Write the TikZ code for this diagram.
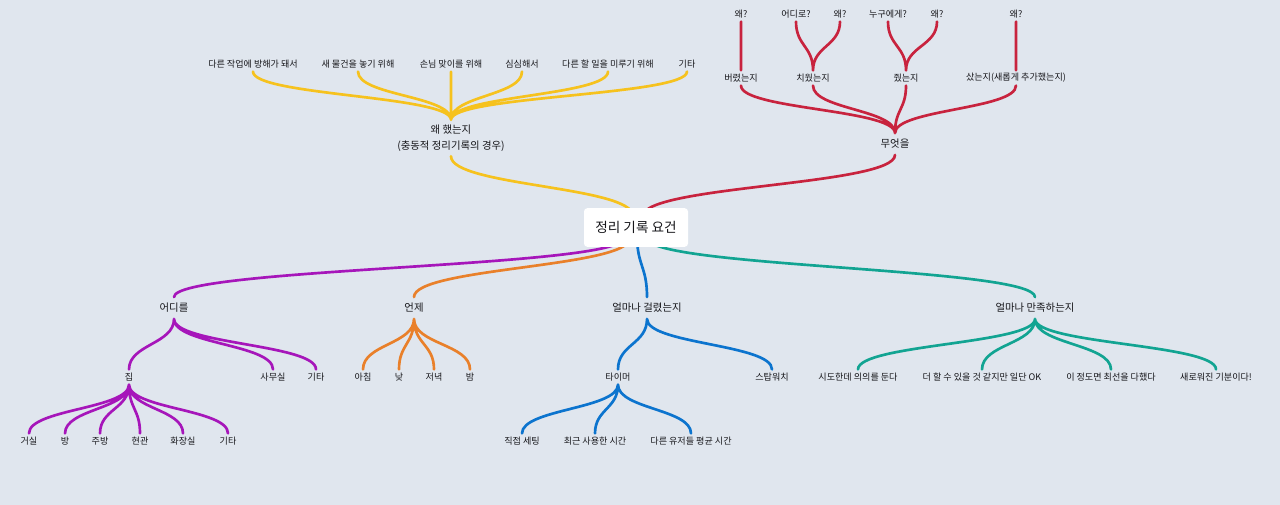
\documentclass[tikz,border=0pt]{standalone}
\usepackage{fontspec}
\setmainfont{Noto Sans CJK KR}
\usepackage{tikz}
\usetikzlibrary{calc, backgrounds}
\definecolor{bgpaper}{RGB}{224,230,238}
\definecolor{ink}{RGB}{22,22,26}
\definecolor{yellowline}{RGB}{246,194,30}
\definecolor{redline}{RGB}{200,35,62}
\definecolor{purpleline}{RGB}{166,22,186}
\definecolor{orangeline}{RGB}{233,128,42}
\definecolor{blueline}{RGB}{12,116,206}
\definecolor{tealline}{RGB}{18,164,146}
\tikzset{
  branch/.style={line width=2pt, line cap=round,
    to path={let \p1=(\tikztostart), \p2=(\tikztotarget) in
      .. controls (\x1,{0.5*\y1+0.5*\y2}) and (\x2,{0.5*\y1+0.5*\y2}) .. (\tikztotarget)}},
  leaf/.style={font=\fontsize{6.8}{8}\selectfont, text=ink, inner sep=0pt, minimum height=11pt},
  topic/.style={font=\fontsize{7.8}{12}\selectfont, text=ink, inner sep=0pt, minimum height=16pt},
  rootbox/.style={fill=white, rounded corners=2.5pt, font=\fontsize{10.2}{12}\selectfont, text=ink,
    minimum width=78pt, minimum height=29pt, inner sep=0pt},
}

\begin{document}
\begin{tikzpicture}[x=0.75pt, y=-0.75pt]
    \useasboundingbox (0,0) rectangle (1280,505);

    % 중심
    \node[rootbox] (root) at (636,227.5) {정리 기록 요건};
    \coordinate (rootYellow) at (633,216);
    \coordinate (rootRed) at (643,216);
    \coordinate (rootPurple) at (624,238);
    \coordinate (rootOrange) at (630,238);
    \coordinate (rootBlue) at (637,235);
    \coordinate (rootTeal) at (647,238);

    % 왜 했는지
    \node[topic, align=center, minimum height=27pt] (why) at (451,138) {왜 했는지\\(충동적 정리기록의 경우)};
    \node[leaf] (why1) at (253,64) {다른 작업에 방해가 돼서};
    \node[leaf] (why2) at (358,64) {새 물건을 놓기 위해};
    \node[leaf] (why3) at (451,64) {손님 맞이를 위해};
    \node[leaf] (why4) at (522,64) {심심해서};
    \node[leaf] (why5) at (608,64) {다른 할 일을 미루기 위해};
    \node[leaf] (why6) at (687,64) {기타};

    % 무엇을
    \node[topic] (what) at (895,144) {무엇을};
    \node[leaf] (discard) at (741,78) {버렸는지};
    \node[leaf] (tidy) at (813,78) {치웠는지};
    \node[leaf] (give) at (906,78) {줬는지};
    \node[leaf] (buy) at (1016,78) {샀는지(새롭게 추가했는지)};
    \node[leaf] (discardWhy) at (741,14) {왜?};
    \node[leaf] (tidyWhere) at (796,14) {어디로?};
    \node[leaf] (tidyWhy) at (840,14) {왜?};
    \node[leaf] (giveWho) at (888,14) {누구에게?};
    \node[leaf] (giveWhy) at (937,14) {왜?};
    \node[leaf] (buyWhy) at (1016,14) {왜?};

    % 어디를
    \node[topic] (where) at (174,308) {어디를};
    \node[leaf] (home) at (129,377) {집};
    \node[leaf] (office) at (273,377) {사무실};
    \node[leaf] (whereEtc) at (316,377) {기타};
    \node[leaf] (living) at (29,441) {거실};
    \node[leaf] (room) at (65,441) {방};
    \node[leaf] (kitchen) at (100,441) {주방};
    \node[leaf] (entrance) at (140,441) {현관};
    \node[leaf] (bathroom) at (183,441) {화장실};
    \node[leaf] (homeEtc) at (228,441) {기타};

    % 언제
    \node[topic] (when) at (414,308) {언제};
    \node[leaf] (morning) at (363,377) {아침};
    \node[leaf] (noon) at (399,377) {낮};
    \node[leaf] (evening) at (434,377) {저녁};
    \node[leaf] (night) at (470,377) {밤};

    % 얼마나 걸렸는지
    \node[topic] (howlong) at (647,308) {얼마나 걸렸는지};
    \node[leaf] (timer) at (618,377) {타이머};
    \node[leaf] (stopwatch) at (772,377) {스탑워치};
    \node[leaf] (manual) at (522,441) {직접 세팅};
    \node[leaf] (recent) at (595,441) {최근 사용한 시간};
    \node[leaf] (average) at (691,441) {다른 유저들 평균 시간};

    % 얼마나 만족하는지
    \node[topic] (howsat) at (1035,308) {얼마나 만족하는지};
    \node[leaf] (sat1) at (858,377) {시도한데 의의를 둔다};
    \node[leaf] (sat2) at (982,377) {더 할 수 있을 것 같지만 일단 OK};
    \node[leaf] (sat3) at (1111,377) {이 정도면 최선을 다했다};
    \node[leaf] (sat4) at (1216,377) {새로워진 기분이다!};

    \begin{scope}[on background layer]
        \fill[bgpaper] (0,0) rectangle (1280,505);

        % 중심에서 나가는 가지
        \draw[branch, yellowline] (why.south) to (rootYellow);
        \draw[branch, redline] (what.south) to (rootRed);
        \draw[branch, purpleline] (rootPurple) to (where.north);
        \draw[branch, orangeline] (rootOrange) to (when.north);
        \draw[branch, blueline] (rootBlue) to (howlong.north);
        \draw[branch, tealline] (rootTeal) to (howsat.north);

        % 왜 했는지
        \draw[branch, yellowline] (why1.south) to (why.north) (why2.south) to (why.north)
            (why3.south) to (why.north) (why4.south) to (why.north)
            (why5.south) to (why.north) (why6.south) to (why.north);

        % 무엇을
        \draw[branch, redline] (discard.south) to (what.north) (tidy.south) to (what.north)
            (give.south) to (what.north) (buy.south) to (what.north);
        \draw[branch, redline] (discardWhy.south) to (discard.north)
            (tidyWhere.south) to (tidy.north) (tidyWhy.south) to (tidy.north)
            (giveWho.south) to (give.north) (giveWhy.south) to (give.north)
            (buyWhy.south) to (buy.north);

        % 어디를
        \draw[branch, purpleline] (where.south) to (home.north) (where.south) to (office.north)
            (where.south) to (whereEtc.north);
        \draw[branch, purpleline] (home.south) to (living.north) (home.south) to (room.north)
            (home.south) to (kitchen.north) (home.south) to (entrance.north)
            (home.south) to (bathroom.north) (home.south) to (homeEtc.north);

        % 언제
        \draw[branch, orangeline] (when.south) to (morning.north) (when.south) to (noon.north)
            (when.south) to (evening.north) (when.south) to (night.north);

        % 얼마나 걸렸는지
        \draw[branch, blueline] (howlong.south) to (timer.north) (howlong.south) to (stopwatch.north);
        \draw[branch, blueline] (timer.south) to (manual.north) (timer.south) to (recent.north)
            (timer.south) to (average.north);

        % 얼마나 만족하는지
        \draw[branch, tealline] (howsat.south) to (sat1.north) (howsat.south) to (sat2.north)
            (howsat.south) to (sat3.north) (howsat.south) to (sat4.north);
    \end{scope}
\end{tikzpicture}
\end{document}
